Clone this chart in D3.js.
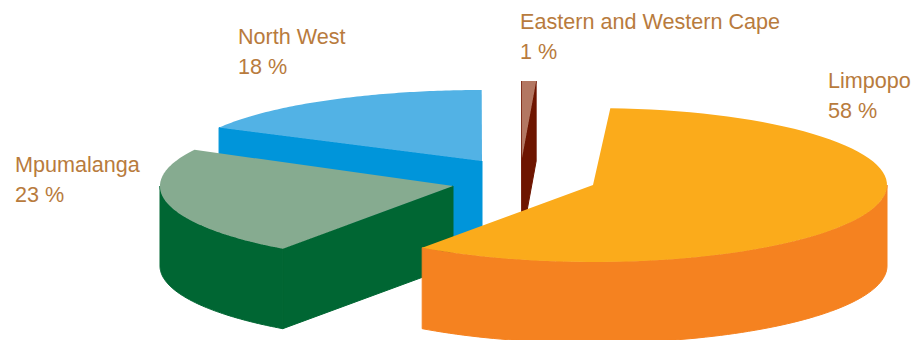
<!DOCTYPE html>
<html>
<head>
<meta charset="utf-8">
<script src="https://cdn.jsdelivr.net/npm/d3@7"></script>
<style>
  html, body { margin: 0; padding: 0; background: #fff; overflow: hidden; }
  text { font-family: "Liberation Sans", Arial, sans-serif; font-size: 21.6px; fill: #b87b3d; }
</style>
</head>
<body>
<svg id="chart" width="921" height="340"></svg>
<script>
// Share of production by province
const regions = ["Limpopo", "Mpumalanga", "North West", "Eastern and Western Cape"];
const shares = [58, 23, 18, 1];
const topColors = ["#fbab1b", "#86ab90", "#52b2e5", "#b37762"];
const wallColors = ["#f58220", "#006633", "#0095da", "#6e1500"];

// Where each exploded wedge sits on the page
const apexX = [593, 453, 482, 522];
const apexY = [185, 186, 161, 158];
const radiusX = [294, 293, 298, 240];
const radiusY = [77, 77, 71, 77];
const depth = [81, 80, 80, 80];
const labelX = [828, 15, 238, 520];
const labelY = [88, 172, 44, 29];
const lineGap = 29.5;
const rad = Math.PI / 180;

const pieLayout = d3.pie().sort(null).startAngle(3.6 * rad).endAngle(363.6 * rad);
const wedges = pieLayout(shares);

// Slight correction for the tilt of the disc: sweeps on the near-left side open up a little
const tilt = t => t + 0.9 * rad + 2.8 * rad * Math.cos(t - 250 * rad);

const svg = d3.select("#chart");
const outline = d3.line();

const rimPoint = (i, t, drop) => [
  apexX[i] + radiusX[i] * Math.sin(t),
  apexY[i] - radiusY[i] * Math.cos(t) + drop
];
const apexPoint = (i, drop) => [apexX[i], apexY[i] + drop];
const sweep = (a, b) => d3.range(0, 81).map(k => a + (b - a) * k / 80);

// Far wedges first, so nearer ones paint over them
const drawOrder = [3, 2, 1, 0];

drawOrder.forEach(i => {
  const start = tilt(wedges[i].startAngle);
  const end = tilt(wedges[i].endAngle);
  const g = svg.append("g").attr("class", "wedge");

  // Cut faces, only when they turn toward the viewer
  [[start, Math.sin(start) < 0], [end, Math.sin(end) > 0]].forEach(([t, visible]) => {
    if (!visible) return;
    g.append("path")
      .attr("d", outline([
        apexPoint(i, 0), rimPoint(i, t, 0), rimPoint(i, t, depth[i]), apexPoint(i, depth[i])
      ]) + "Z")
      .attr("fill", wallColors[i])
      .attr("stroke", wallColors[i])
      .attr("stroke-width", 1);
  });

  // Outer wall along the front half of the rim
  const wallFrom = Math.max(start, 90 * rad);
  const wallTo = Math.min(end, 270 * rad);
  if (wallFrom < wallTo) {
    const angles = sweep(wallFrom, wallTo);
    const upper = angles.map(t => rimPoint(i, t, 0));
    const lower = angles.slice().reverse().map(t => rimPoint(i, t, depth[i]));
    g.append("path")
      .attr("d", outline(upper.concat(lower)) + "Z")
      .attr("fill", wallColors[i])
      .attr("stroke", wallColors[i])
      .attr("stroke-width", 1);
  }

  // Top face
  const rim = sweep(start, end).map(t => rimPoint(i, t, 0));
  g.append("path")
    .attr("d", outline([apexPoint(i, 0)].concat(rim)) + "Z")
    .attr("fill", topColors[i]);
});

// Two-line labels: name, then share
regions.forEach((name, i) => {
  const label = svg.append("text").attr("x", labelX[i]).attr("y", labelY[i]);
  label.append("tspan").attr("x", labelX[i]).text(name);
  label.append("tspan").attr("x", labelX[i]).attr("dy", lineGap).text(shares[i] + " %");
});
</script>
</body>
</html>
